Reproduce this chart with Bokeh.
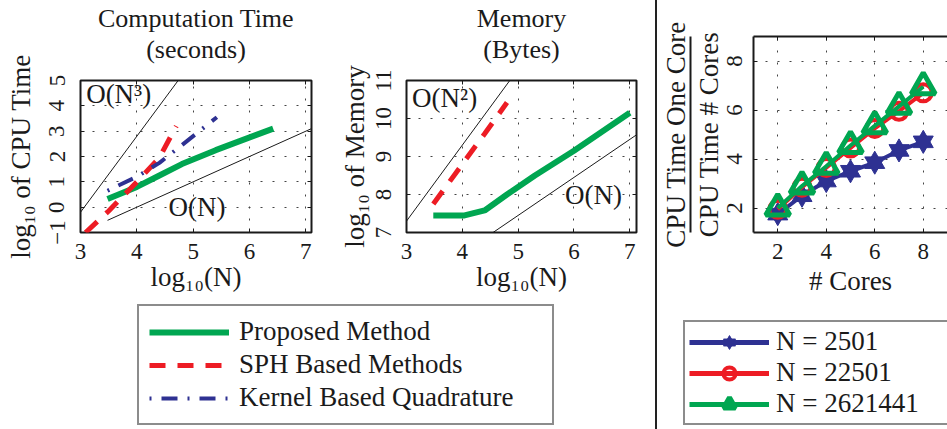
from bokeh.plotting import figure
from bokeh.models import (Range1d, FixedTicker, LinearAxis, Label, Legend, LegendItem,
                          ColumnDataSource, Div, Spacer)
from bokeh.layouts import row, column
from bokeh.embed import file_html
from bokeh.resources import INLINE

# ---------------- data ----------------
# Computation time panel: log10(N) vs log10 of CPU time
time_prop_logn = [3.48, 4.0, 4.4, 4.8, 5.4, 6.42]
time_prop_val = [0.32, 0.8, 1.25, 1.7, 2.25, 3.1]
time_sph_logn = [3.09, 3.5, 4.0, 4.4, 4.7]
time_sph_val = [-1.0, -0.15, 1.0, 1.95, 3.2]
time_kbq_logn = [3.48, 4.0, 4.4, 4.8, 5.42]
time_kbq_val = [0.65, 1.2, 1.75, 2.45, 3.55]
time_on3_logn = [2.9, 4.8]
time_on3_val = [-0.5, 5.2]
time_on_logn = [3.48, 7.2]
time_on_val = [-0.52, 3.2]

# Memory panel: log10(N) vs log10 of memory
mem_prop_logn = [3.48, 4.04, 4.4, 4.8, 5.3, 6.0, 7.0]
mem_prop_val = [7.45, 7.45, 7.58, 8.0, 8.5, 9.15, 10.15]
mem_sph_logn = [3.48, 4.0, 4.4, 4.8]
mem_sph_val = [7.75, 8.8, 9.6, 10.42]
mem_on2_logn = [2.9, 4.9]
mem_on2_val = [7.1, 11.1]
mem_on_logn = [4.55, 7.2]
mem_on_val = [7.0, 9.65]

# Speed-up panel
cores = [2, 3, 4, 5, 6, 7, 8]
speedup_2501 = [1.75, 2.5, 3.1, 3.5, 3.85, 4.35, 4.7]
speedup_22501 = [1.95, 2.85, 3.65, 4.45, 5.25, 5.95, 6.7]
speedup_2621441 = [2.0, 2.9, 3.7, 4.55, 5.35, 6.15, 6.95]

method_labels = ["Proposed Method", "SPH Based Methods", "Kernel Based Quadrature"]
size_labels = ["N = 2501", "N = 22501", "N = 2621441"]
panel_titles = ["Computation Time\n(seconds)", "Memory\n(Bytes)"]

time_xticks = [3, 4, 5, 6, 7]
time_yticks = [-1, 0, 1, 2, 3, 4, 5]
mem_xticks = [3, 4, 5, 6, 7]
mem_yticks = [7, 8, 9, 10, 11]
core_ticks = [2, 4, 6, 8]

# ---------------- style ----------------
FONT = "Liberation Serif"
INK = "#1a1a1a"
GREEN = "#00A651"
RED = "#ED1C24"
BLUE = "#2E3192"
BIG = "27px"
HEAD = "26px"
TICK = "23px"


def base_fig(width, height, xr, yr, mb):
    p = figure(width=width, height=height, x_range=Range1d(*xr), y_range=Range1d(*yr),
               output_backend="svg", toolbar_location=None, title=None,
               min_border_left=mb[0], min_border_right=mb[1],
               min_border_top=mb[2], min_border_bottom=mb[3])
    p.background_fill_color = "white"
    p.border_fill_color = "white"
    return p


def style_axis(ax):
    ax.major_tick_in = 4
    ax.major_tick_out = 0
    ax.minor_tick_line_color = None
    ax.major_tick_line_color = INK
    ax.major_label_text_font = FONT
    ax.major_label_text_font_size = TICK
    ax.major_label_text_color = INK
    ax.axis_label_text_font = FONT
    ax.axis_label_text_font_size = BIG
    ax.axis_label_text_font_style = "normal"
    ax.axis_label_text_color = INK


def mirror_axis(p, side, ticks, line=False, label=None, label_standoff=0,
                size=BIG, lh=1.2):
    ax = LinearAxis(ticker=FixedTicker(ticks=ticks), major_tick_in=4, major_tick_out=0,
                    minor_tick_line_color=None, major_tick_line_color=INK,
                    major_label_text_font_size="1px", major_label_text_alpha=0,
                    major_label_standoff=0,
                    axis_line_color=INK if line else None, axis_line_width=2,
                    axis_label=label, axis_label_standoff=label_standoff,
                    axis_label_text_font=FONT, axis_label_text_font_size=size,
                    axis_label_text_line_height=lh, axis_label_text_align="center",
                    axis_label_text_font_style="normal", axis_label_text_color=INK)
    p.add_layout(ax, side)
    return ax


def text_axis(p, side, label, standoff, line=False):
    ax = LinearAxis(ticker=FixedTicker(ticks=[]), major_tick_in=0, major_tick_out=0,
                    minor_tick_line_color=None, major_label_text_font_size="1px",
                    major_label_standoff=0, axis_label=label, axis_label_standoff=standoff,
                    axis_line_color=INK if line else None, axis_line_width=2,
                    axis_label_text_font=FONT, axis_label_text_font_size=BIG,
                    axis_label_text_font_style="normal", axis_label_text_color=INK)
    p.add_layout(ax, side)
    return ax


def style_panel(p, xticks, yticks, xlabel, ylabel, outline=True):
    p.xaxis.ticker = FixedTicker(ticks=xticks)
    p.yaxis.ticker = FixedTicker(ticks=yticks)
    p.xaxis.axis_label = xlabel
    p.yaxis.axis_label = ylabel
    for ax in list(p.xaxis) + list(p.yaxis):
        style_axis(ax)
        ax.axis_line_color = None if outline else INK
        ax.axis_line_width = 2
    p.yaxis.major_label_orientation = "vertical"
    p.xaxis.major_label_standoff = 11
    p.yaxis.major_label_standoff = 16
    p.xaxis.axis_label_standoff = 0
    p.grid.grid_line_color = "#444444"
    p.grid.grid_line_dash = "2 10"
    p.grid.grid_line_width = 1
    if outline:
        p.outline_line_color = INK
        p.outline_line_width = 2
    else:
        p.outline_line_color = None


def note(p, x, y, text):
    p.add_layout(Label(x=x, y=y, text=text, text_font=FONT, text_font_size=BIG,
                       text_color=INK, text_baseline="middle", text_align="left"))


# ---------------- panel 1: computation time ----------------
p1 = base_fig(326, 300, (3, 7.1), (-1, 5), (80, 15, 79, 68))
style_panel(p1, time_xticks, time_yticks, "log₁₀(N)", "log₁₀ of CPU Time")
p1.yaxis.axis_label_standoff = 11
mirror_axis(p1, "right", time_yticks)
mirror_axis(p1, "above", time_xticks, label=panel_titles[0], label_standoff=17,
            size=HEAD, lh=1.06)
p1.line(time_on3_logn, time_on3_val, color=INK, line_width=1)
p1.line(time_on_logn, time_on_val, color=INK, line_width=1)
p1.line(time_prop_logn, time_prop_val, color=GREEN, line_width=6)
p1.line(time_sph_logn, time_sph_val, color=RED, line_width=5, line_dash="16 12")
p1.line(time_kbq_logn, time_kbq_val, color=BLUE, line_width=4, line_dash="2 10 16 10")
note(p1, 3.1, 4.45, "O(N³)")
note(p1, 4.56, 0.0, "O(N)")

# ---------------- panel 2: memory ----------------
p2 = base_fig(322, 300, (3, 7.12), (7, 11), (80, 12, 79, 68))
style_panel(p2, mem_xticks, mem_yticks, "log₁₀(N)", "log₁₀ of Memory")
p2.yaxis.axis_label_standoff = 3
mirror_axis(p2, "right", mem_yticks)
mirror_axis(p2, "above", mem_xticks, label=panel_titles[1], label_standoff=17,
            size=HEAD, lh=1.06)
p2.line(mem_on2_logn, mem_on2_val, color=INK, line_width=1)
p2.line(mem_on_logn, mem_on_val, color=INK, line_width=1)
p2.line(mem_prop_logn, mem_prop_val, color=GREEN, line_width=6)
p2.line(mem_sph_logn, mem_sph_val, color=RED, line_width=5, line_dash="16 12")
note(p2, 3.1, 10.53, "O(N²)")
note(p2, 5.84, 8.0, "O(N)")

# ---------------- panel 3: speed-up ----------------
p3 = base_fig(290, 300, (1, 9), (1, 9), (95, 0, 36, 68))
style_panel(p3, core_ticks, core_ticks, "# Cores", "CPU Time # Cores", outline=False)
p3.yaxis.major_label_standoff = 12
p3.yaxis.axis_label_standoff = 0
p3.xaxis.axis_label_standoff = 4
mirror_axis(p3, "above", core_ticks, line=True)
text_axis(p3, "left", "CPU Time One Core", 0, line=True)

p3.line(cores, speedup_2501, color=BLUE, line_width=4)
p3.scatter(cores, speedup_2501, marker="triangle", size=20, color=BLUE)
p3.scatter(cores, speedup_2501, marker="inverted_triangle", size=20, color=BLUE)
p3.line(cores, speedup_22501, color=RED, line_width=4)
p3.scatter(cores, speedup_22501, marker="circle", size=17, line_color=RED, line_width=4, fill_color=None)
p3.line(cores, speedup_2621441, color=GREEN, line_width=4)
p3.scatter(cores, speedup_2621441, marker="triangle", size=24, line_color=GREEN, line_width=5, fill_color=None)

# ---------------- legends ----------------
NAN = float("nan")


def blank():
    # a single undefined point: the renderer draws nothing in the plot area
    return ColumnDataSource(data=dict(x=[NAN], y=[NAN]))


def legend_fig(width, height):
    f = figure(width=width, height=height, x_range=Range1d(0, 1), y_range=Range1d(0, 1),
               output_backend="svg", toolbar_location=None, title=None,
               x_axis_type=None, y_axis_type=None, min_border=0)
    f.outline_line_color = None
    f.grid.visible = False
    return f


lg1 = legend_fig(648, 129)
r_g = lg1.line("x", "y", source=blank(), color=GREEN, line_width=6)
r_r = lg1.line("x", "y", source=blank(), color=RED, line_width=5, line_dash="16 12")
r_b = lg1.line("x", "y", source=blank(), color=BLUE, line_width=4, line_dash="2 10 16 10")
L1 = Legend(items=[LegendItem(label=method_labels[0], renderers=[r_g]),
                   LegendItem(label=method_labels[1], renderers=[r_r]),
                   LegendItem(label=method_labels[2], renderers=[r_b])],
            location=(137, 4), label_text_font=FONT, label_text_font_size=BIG,
            label_text_color=INK, glyph_width=80, glyph_height=24, label_height=24,
            label_width=303, label_standoff=10, padding=10, spacing=2,
            border_line_color=INK, border_line_width=2, background_fill_alpha=1.0)
lg1.add_layout(L1)

lg2 = legend_fig(290, 129)
b_l = lg2.line("x", "y", source=blank(), color=BLUE, line_width=5)
b_m1 = lg2.scatter("x", "y", source=blank(), marker="triangle", size=20, color=BLUE)
b_m2 = lg2.scatter("x", "y", source=blank(), marker="inverted_triangle", size=20, color=BLUE)
rd_l = lg2.line("x", "y", source=blank(), color=RED, line_width=5)
rd_m = lg2.scatter("x", "y", source=blank(), marker="circle", size=17, line_color=RED,
                   line_width=4, fill_color=None)
gn_l = lg2.line("x", "y", source=blank(), color=GREEN, line_width=5)
gn_m = lg2.scatter("x", "y", source=blank(), marker="triangle", size=24, line_color=GREEN,
                   line_width=5, fill_color=None)
L2 = Legend(items=[LegendItem(label=size_labels[0], renderers=[b_l, b_m1, b_m2]),
                   LegendItem(label=size_labels[1], renderers=[rd_l, rd_m]),
                   LegendItem(label=size_labels[2], renderers=[gn_l, gn_m])],
            location=(26, 4), label_text_font=FONT, label_text_font_size=BIG,
            label_text_color=INK, glyph_width=80, glyph_height=30, label_height=24,
            label_width=180, label_standoff=7, padding=4, spacing=0,
            border_line_color=INK, border_line_width=2, background_fill_alpha=1.0)
lg2.add_layout(L2)

sep = Div(text="", width=2, height=429, margin=0, styles={"background-color": "#222222"})
left = column(row(p1, p2), lg1)
right = column(p3, row(lg2))
layout = row(left, Spacer(width=7, height=429, margin=0), sep, right)

open("out.html", "w").write(file_html(layout, INLINE))
